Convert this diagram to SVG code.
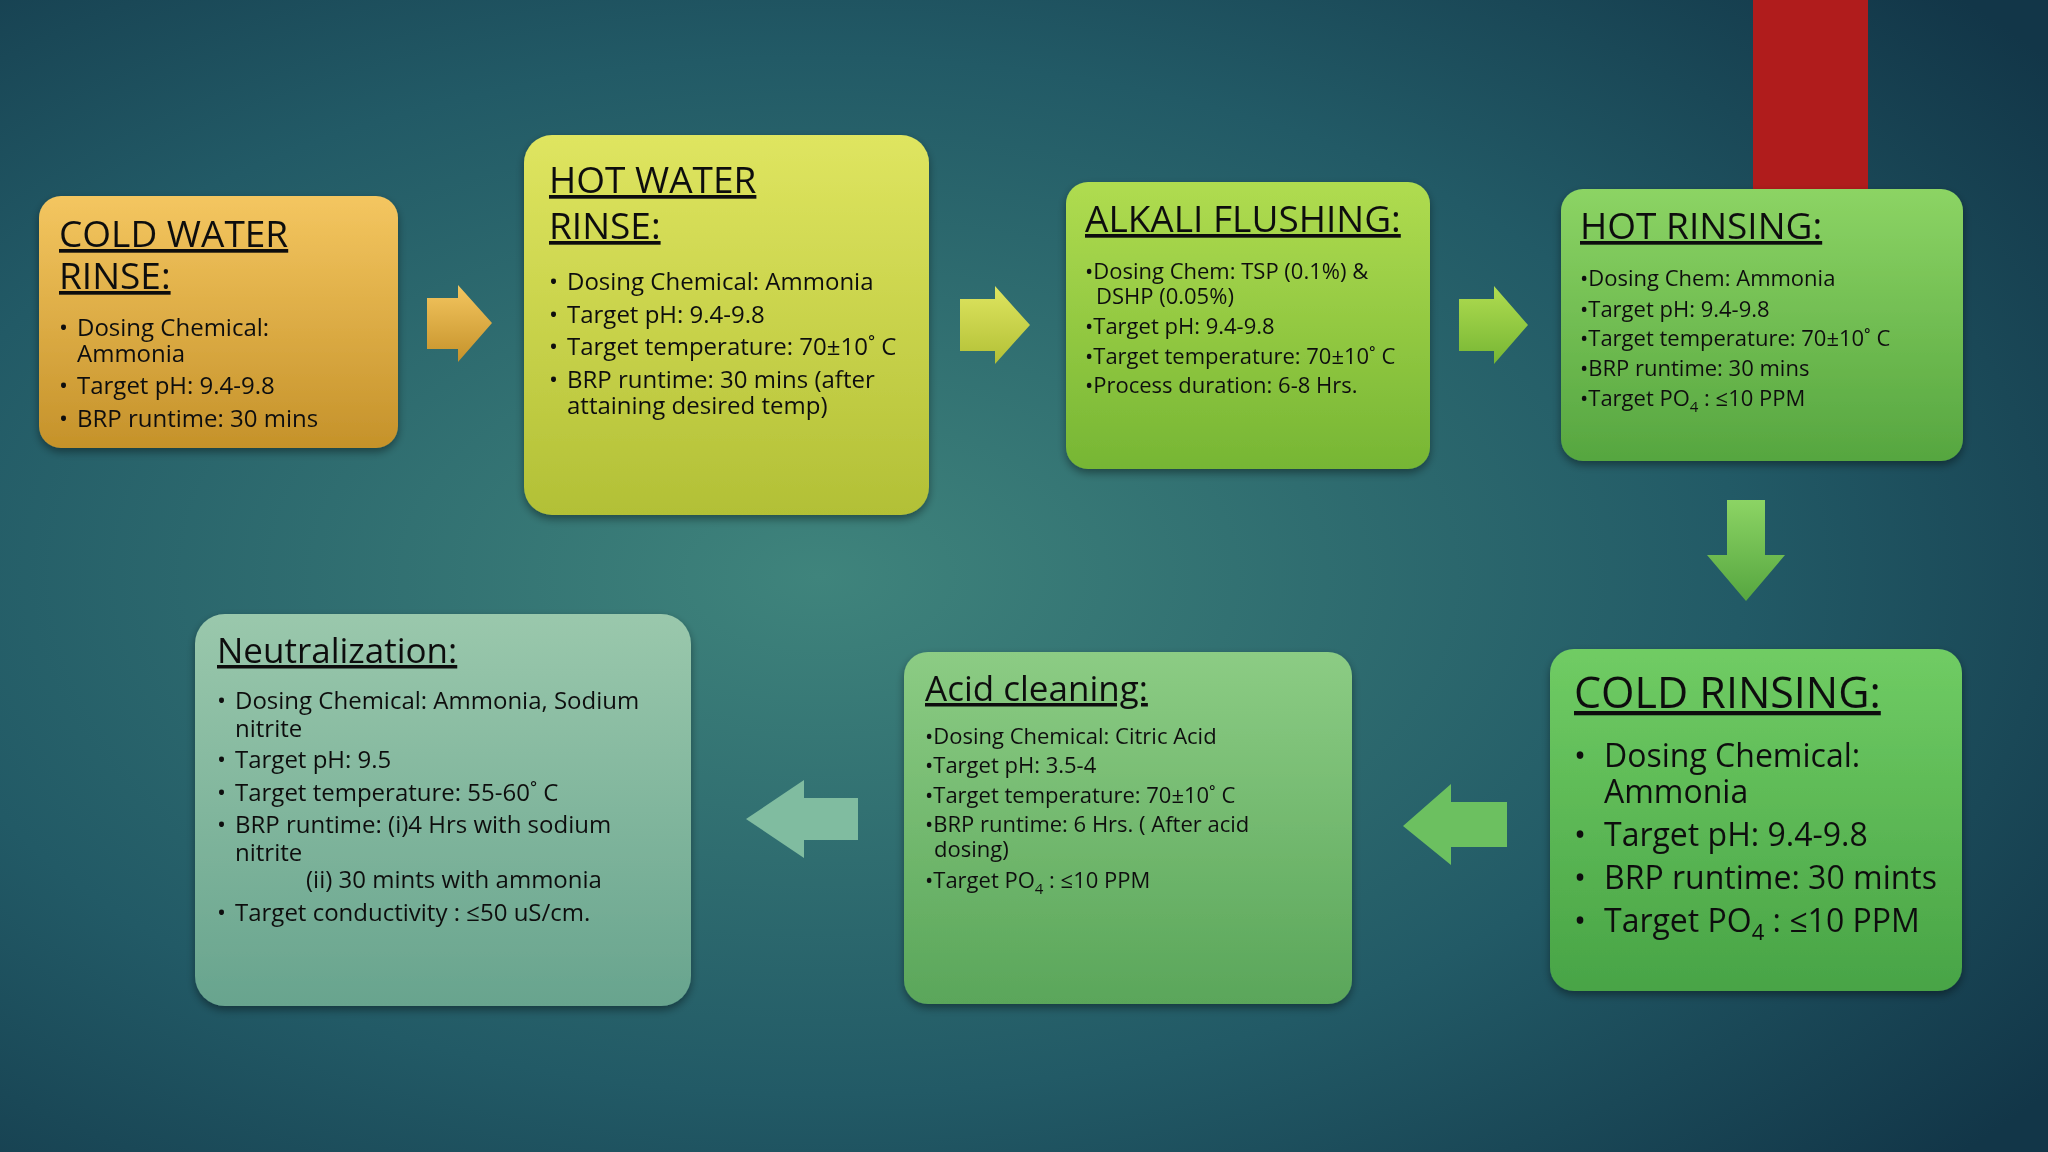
<svg xmlns="http://www.w3.org/2000/svg" width="2048" height="1152" viewBox="0 0 2048 1152">
<defs>
<radialGradient id="bg" cx="0.4" cy="0.5" r="0.75">
<stop offset="0" stop-color="#3f847c"/><stop offset="0.6" stop-color="#225a66"/><stop offset="1" stop-color="#123648"/>
</radialGradient>
<linearGradient id="g1" x1="0" y1="0" x2="0" y2="1"><stop offset="0" stop-color="#f4c660"/><stop offset="1" stop-color="#c5922a"/></linearGradient>
<linearGradient id="g2" x1="0" y1="0" x2="0" y2="1"><stop offset="0" stop-color="#dfe560"/><stop offset="1" stop-color="#b2c036"/></linearGradient>
<linearGradient id="g3" x1="0" y1="0" x2="0" y2="1"><stop offset="0" stop-color="#b0dc50"/><stop offset="1" stop-color="#76b634"/></linearGradient>
<linearGradient id="g4" x1="0" y1="0" x2="0" y2="1"><stop offset="0" stop-color="#8cd464"/><stop offset="1" stop-color="#56a640"/></linearGradient>
<linearGradient id="g5" x1="0" y1="0" x2="0" y2="1"><stop offset="0" stop-color="#70cc64"/><stop offset="1" stop-color="#48a446"/></linearGradient>
<linearGradient id="g6" x1="0" y1="0" x2="0" y2="1"><stop offset="0" stop-color="#8ccc84"/><stop offset="1" stop-color="#5aa65a"/></linearGradient>
<linearGradient id="g7" x1="0" y1="0" x2="0" y2="1"><stop offset="0" stop-color="#9ac8ac"/><stop offset="1" stop-color="#68a48e"/></linearGradient>
<filter id="sh" x="-10%" y="-10%" width="120%" height="130%"><feDropShadow dx="0" dy="4" stdDeviation="4" flood-color="#000" flood-opacity="0.4"/></filter>
</defs>
<style>
text{font-family:"Open Sans","Noto Sans","Liberation Sans",sans-serif;fill:#111}
.t{font-size:37px;text-decoration:underline}
.b{font-size:24px}
.s{font-size:22px}
.bt{font-size:43px;text-decoration:underline}
.bb{font-size:32px}
.box{filter:url(#sh)}
</style>
<rect width="2048" height="1152" fill="url(#bg)"/>
<rect x="1753" y="0" width="115" height="189" fill="#b01c1c"/>
<g id="connectors">
<polygon points="427,298 458,298 458,285 492,323 458,362 458,349 427,349" fill="url(#g1)"/>
<polygon points="960,299 995,299 995,286 1030,325 995,364 995,351 960,351" fill="url(#g2)"/>
<polygon points="1459,299 1494,299 1494,286 1528,325 1494,364 1494,351 1459,351" fill="url(#g3)"/>
<polygon points="1727,500 1765,500 1765,555 1785,555 1746,601 1707,555 1727,555" fill="url(#g4)"/>
<polygon points="1507,802 1451,802 1451,784 1403,826 1451,865 1451,847 1507,847" fill="#6cc060"/>
<polygon points="858,798 804,798 804,780 746,819 804,858 804,840 858,840" fill="#80bca0"/>
</g>
<g id="n1" class="box"><rect x="39" y="196" width="359" height="252" rx="22" fill="url(#g1)"/>
<text class="t" x="59" y="247">COLD WATER</text><text class="t" x="59" y="289">RINSE:</text>
<text class="b" x="59" y="336">•<tspan x="77">Dosing Chemical:</tspan></text><text class="b" x="77" y="362">Ammonia</text>
<text class="b" x="59" y="394">•<tspan x="77">Target pH: 9.4-9.8</tspan></text>
<text class="b" x="59" y="427">•<tspan x="77">BRP runtime: 30 mins</tspan></text></g>
<g id="n2" class="box"><rect x="524" y="135" width="405" height="380" rx="28" fill="url(#g2)"/>
<text class="t" x="549" y="193">HOT WATER</text><text class="t" x="549" y="239">RINSE:</text>
<text class="b" x="549" y="290">•<tspan x="567">Dosing Chemical: Ammonia</tspan></text>
<text class="b" x="549" y="323">•<tspan x="567">Target pH: 9.4-9.8</tspan></text>
<text class="b" x="549" y="355">•<tspan x="567">Target temperature: 70±10˚ C</tspan></text>
<text class="b" x="549" y="388">•<tspan x="567">BRP runtime: 30 mins (after</tspan></text>
<text class="b" x="567" y="414">attaining desired temp)</text></g>
<g id="n3" class="box"><rect x="1066" y="182" width="364" height="287" rx="22" fill="url(#g3)"/>
<text class="t" x="1085" y="232">ALKALI FLUSHING:</text>
<text class="s" x="1085" y="279">•Dosing Chem: TSP (0.1%) &amp;</text>
<text class="s" x="1096" y="304">DSHP (0.05%)</text>
<text class="s" x="1085" y="334">•Target pH: 9.4-9.8</text>
<text class="s" x="1085" y="364">•Target temperature: 70±10˚ C</text>
<text class="s" x="1085" y="393">•Process duration: 6-8 Hrs.</text></g>
<g id="n4" class="box"><rect x="1561" y="189" width="402" height="272" rx="22" fill="url(#g4)"/>
<text class="t" x="1580" y="239">HOT RINSING:</text>
<text class="s" x="1580" y="286">•Dosing Chem: Ammonia</text>
<text class="s" x="1580" y="317">•Target pH: 9.4-9.8</text>
<text class="s" x="1580" y="346">•Target temperature: 70±10˚ C</text>
<text class="s" x="1580" y="376">•BRP runtime: 30 mins</text>
<text class="s" x="1580" y="406">•Target PO<tspan font-size="15" dy="6">4</tspan><tspan dy="-6">  : ≤10 PPM</tspan></text></g>
<g id="n5" class="box"><rect x="1550" y="649" width="412" height="342" rx="24" fill="url(#g5)"/>
<text class="bt" x="1574" y="708">COLD RINSING:</text>
<text class="bb" x="1574" y="767">•<tspan x="1604">Dosing Chemical:</tspan></text><text class="bb" x="1604" y="803">Ammonia</text>
<text class="bb" x="1574" y="846">•<tspan x="1604">Target pH: 9.4-9.8</tspan></text>
<text class="bb" x="1574" y="889">•<tspan x="1604">BRP runtime: 30 mints</tspan></text>
<text class="bb" x="1574" y="932">•<tspan x="1604">Target PO</tspan><tspan font-size="22" dy="8">4</tspan><tspan dy="-8">  : ≤10 PPM</tspan></text></g>
<g id="n6" class="box"><rect x="904" y="652" width="448" height="352" rx="24" fill="url(#g6)"/>
<text class="t" x="925" y="701" style="font-size:35px">Acid cleaning:</text>
<text class="s" x="925" y="744">•Dosing Chemical: Citric Acid</text>
<text class="s" x="925" y="773">•Target pH: 3.5-4</text>
<text class="s" x="925" y="803">•Target temperature: 70±10˚ C</text>
<text class="s" x="925" y="832">•BRP runtime: 6 Hrs. ( After acid</text>
<text class="s" x="934" y="857">dosing)</text>
<text class="s" x="925" y="888">•Target PO<tspan font-size="15" dy="6">4</tspan><tspan dy="-6">  : ≤10 PPM</tspan></text></g>
<g id="n7" class="box"><rect x="195" y="614" width="496" height="392" rx="30" fill="url(#g7)"/>
<text class="t" x="217" y="663" style="font-size:35px">Neutralization:</text>
<text class="b" x="217" y="709">•<tspan x="235">Dosing Chemical: Ammonia,  Sodium</tspan></text>
<text class="b" x="235" y="737">nitrite</text>
<text class="b" x="217" y="768">•<tspan x="235">Target pH: 9.5</tspan></text>
<text class="b" x="217" y="801">•<tspan x="235">Target temperature: 55-60˚ C</tspan></text>
<text class="b" x="217" y="833">•<tspan x="235">BRP runtime: (i)4 Hrs with sodium</tspan></text>
<text class="b" x="235" y="861">nitrite</text>
<text class="b" x="306" y="888">(ii) 30 mints with ammonia</text>
<text class="b" x="217" y="921">•<tspan x="235">Target conductivity  : ≤50 uS/cm.</tspan></text></g>
</svg>
